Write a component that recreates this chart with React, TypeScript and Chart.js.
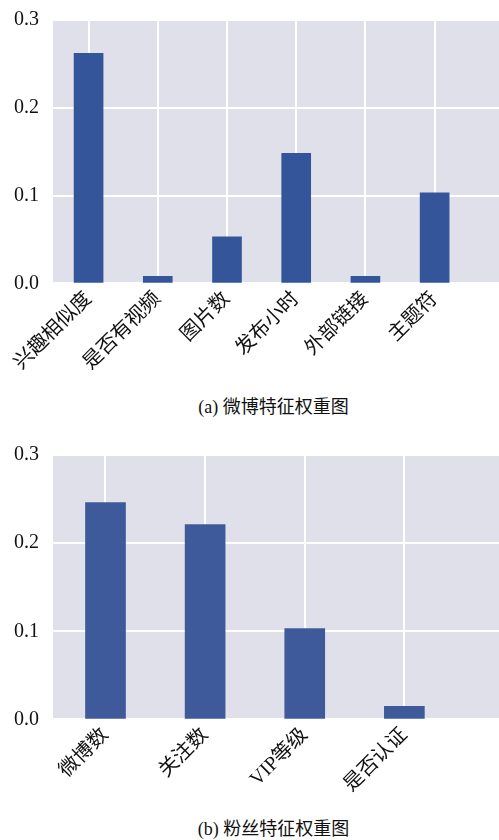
import { useEffect, useRef } from "react";
import { Chart, registerables } from "chart.js";

Chart.register(...registerables);

const weiboLabels = ["兴趣相似度", "是否有视频", "图片数", "发布小时", "外部链接", "主题符"];
const weiboValues = [0.262, 0.008, 0.053, 0.148, 0.008, 0.103];
const fanLabels = ["微博数", "关注数", "VIP等级", "是否认证"];
const fanValues = [0.246, 0.221, 0.103, 0.015];
const yTicks = [0, 0.1, 0.2, 0.3];

const FONT = "'Liberation Serif', 'Noto Sans CJK SC', serif";

const bgPlugin = {
  id: "bg",
  beforeDraw(chart: any) {
    const { ctx, chartArea: a } = chart;
    ctx.save();
    ctx.fillStyle = "#e0e0ea";
    ctx.fillRect(a.left, a.top, a.right - a.left, a.bottom - a.top);
    ctx.restore();
  },
};

function BarPanel({ labels, values, color, thickness, xmin, xmax }: {
  labels: string[]; values: number[]; color: string; thickness: number; xmin: number; xmax: number;
}) {
  const ref = useRef<HTMLCanvasElement>(null);
  useEffect(() => {
    if (!ref.current) return;
    const chart = new Chart(ref.current, {
      type: "bar",
      data: {
        datasets: [{
          data: values.map((v, i) => ({ x: i, y: v })),
          backgroundColor: color,
          barThickness: thickness,
        }],
      },
      plugins: [bgPlugin],
      options: {
        animation: false,
        responsive: true,
        maintainAspectRatio: false,
        layout: { padding: { top: 10, right: 0, left: 0 } },
        plugins: { legend: { display: false }, tooltip: { enabled: false } },
        scales: {
          x: {
            type: "linear",
            offset: false,
            min: xmin,
            max: xmax,
            afterBuildTicks: (s: any) => { s.ticks = labels.map((_, i) => ({ value: i })); },
            ticks: {
              callback: (v: any) => labels[v] ?? "",
              maxRotation: 45,
              minRotation: 45,
              color: "#111",
              font: { family: FONT, size: 20 },
              padding: 4,
            },
            grid: { color: "#ffffff", lineWidth: 2, drawTicks: false, offset: false },
            border: { display: false },
          },
          y: {
            min: 0,
            max: 0.3,
            afterBuildTicks: (s: any) => { s.ticks = yTicks.map((v) => ({ value: v })); },
            ticks: {
              callback: (v: any) => Number(v).toFixed(1),
              color: "#111",
              font: { family: FONT, size: 20 },
              padding: 14,
            },
            grid: { color: "#ffffff", lineWidth: 2, drawTicks: false },
            border: { display: false },
          },
        },
      },
    });
    return () => chart.destroy();
  }, []);
  return <canvas ref={ref} />;
}

const caption: React.CSSProperties = {
  position: "absolute",
  left: 0,
  width: 499,
  textAlign: "center",
  paddingLeft: 48,
  boxSizing: "border-box",
  fontFamily: FONT,
  fontSize: 18,
  color: "#111",
};

export default function App() {
  return (
    <div style={{ position: "absolute", left: 0, top: 0, width: 499, height: 840, background: "#fff", overflow: "hidden" }}>
      <div style={{ position: "absolute", left: 0, top: -6, width: 499, height: 385 }}>
        <BarPanel labels={weiboLabels} values={weiboValues} color="#34559a" thickness={29} xmin={-0.514} xmax={5.93} />
      </div>
      <div style={{ ...caption, top: 392 }}>(a) 微博特征权重图</div>
      <div style={{ position: "absolute", left: 0, top: 429, width: 499, height: 372 }}>
        <BarPanel labels={fanLabels} values={fanValues} color="#3f5a9b" thickness={40} xmin={-0.527} xmax={3.95} />
      </div>
      <div style={{ ...caption, top: 814 }}>(b) 粉丝特征权重图</div>
    </div>
  );
}
